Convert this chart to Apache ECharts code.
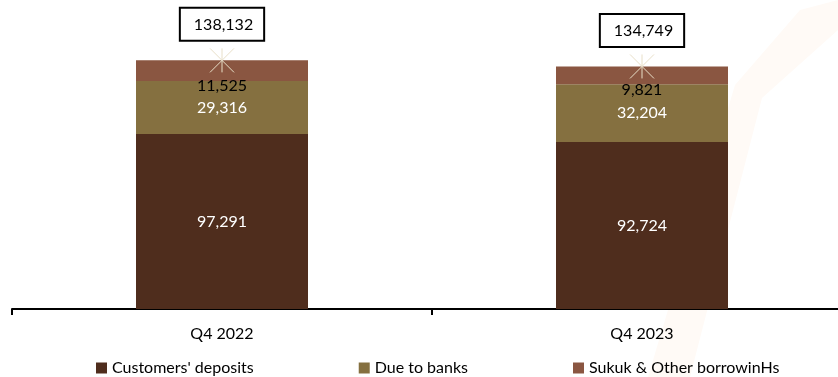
<!DOCTYPE html>
<html>
<head>
<meta charset="utf-8">
<script src="https://cdn.jsdelivr.net/npm/echarts@6/dist/echarts.min.js"></script>
<style>
  html, body { margin: 0; padding: 0; background: #fff; }
  #chart { width: 838px; height: 377px; }
</style>
</head>
<body>
<div id="chart"></div>
<script>
// Данные
const categories = ['Q4 2022', 'Q4 2023'];
const customersDeposits = [97291, 92724];
const dueToBanks = [29316, 32204];
const sukukOther = [11525, 9821];
const totals = [138132, 134749];

const font = 'Lato, "Open Sans", sans-serif';
const fmt = v => v.toLocaleString('en-US');

const chart = echarts.init(document.getElementById('chart'));

const option = {
    animation: false,
    // ось выходит за правый край, как в оригинале
    grid: { left: 12, width: 840, top: 3, bottom: 68, outerBoundsMode: 'none' },
    // едва заметный водяной знак справа
    graphic: [{
        type: 'polygon',
        silent: true,
        z: -10,
        shape: { points: [[838, 0], [838, 30], [762, 98], [690, 377], [648, 377], [735, 85], [800, 10]] },
        style: { fill: '#fffaf6' }
    }],
    legend: {
        left: 91,
        top: 355,
        itemWidth: 11,
        itemHeight: 11,
        itemGap: 105,
        icon: 'rect',
        textStyle: { fontFamily: font, fontSize: 16, color: '#000' },
        data: ["Customers' deposits", 'Due to banks', 'Sukuk & Other borrowinHs']
    },
    xAxis: {
        type: 'category',
        data: categories,
        axisLine: { lineStyle: { color: '#000', width: 2 } },
        axisTick: { show: true, length: 6, lineStyle: { color: '#000', width: 2 } },
        axisLabel: { fontFamily: font, fontSize: 16, color: '#000', margin: 17 }
    },
    yAxis: {
        type: 'value',
        min: 0,
        max: 170000,
        show: false,
        splitLine: { show: false }
    },
    series: [
        {
            name: "Customers' deposits",
            type: 'bar',
            stack: 'total',
            barWidth: 172,
            data: customersDeposits,
            itemStyle: { color: '#4f2d1d' },
            label: {
                show: true, position: 'inside', color: '#fff',
                fontFamily: font, fontSize: 16, formatter: p => fmt(p.value)
            }
        },
        {
            name: 'Due to banks',
            type: 'bar',
            stack: 'total',
            data: dueToBanks,
            itemStyle: { color: '#857040' },
            label: {
                show: true, position: 'inside', color: '#fff',
                fontFamily: font, fontSize: 16, formatter: p => fmt(p.value)
            }
        },
        {
            name: 'Sukuk & Other borrowinHs',
            type: 'bar',
            stack: 'total',
            data: sukukOther,
            itemStyle: { color: '#8a5641' },
            label: {
                show: true, position: 'inside', offset: [0, 15], color: '#000',
                fontFamily: font, fontSize: 16, formatter: p => fmt(p.value)
            }
        },
        {
            // итог: звездочка + рамка с подписью
            name: 'Total',
            type: 'scatter',
            data: totals,
            symbol: 'path://M10,0 L10,20 M0,0 L20,20 M20,0 L0,20',
            symbolSize: 24,
            itemStyle: { color: 'none', borderColor: '#e8dfc8', borderWidth: 1, opacity: 1 },
            label: {
                show: true,
                position: 'top',
                distance: 6,
                color: '#000',
                fontFamily: font,
                fontSize: 16,
                lineHeight: 18,
                borderColor: '#000',
                borderWidth: 2,
                borderRadius: 0,
                padding: [7, 10, 6, 13],
                backgroundColor: '#fff',
                formatter: p => fmt(p.value)
            }
        }
    ]
};

chart.setOption(option);
</script>
</body>
</html>
